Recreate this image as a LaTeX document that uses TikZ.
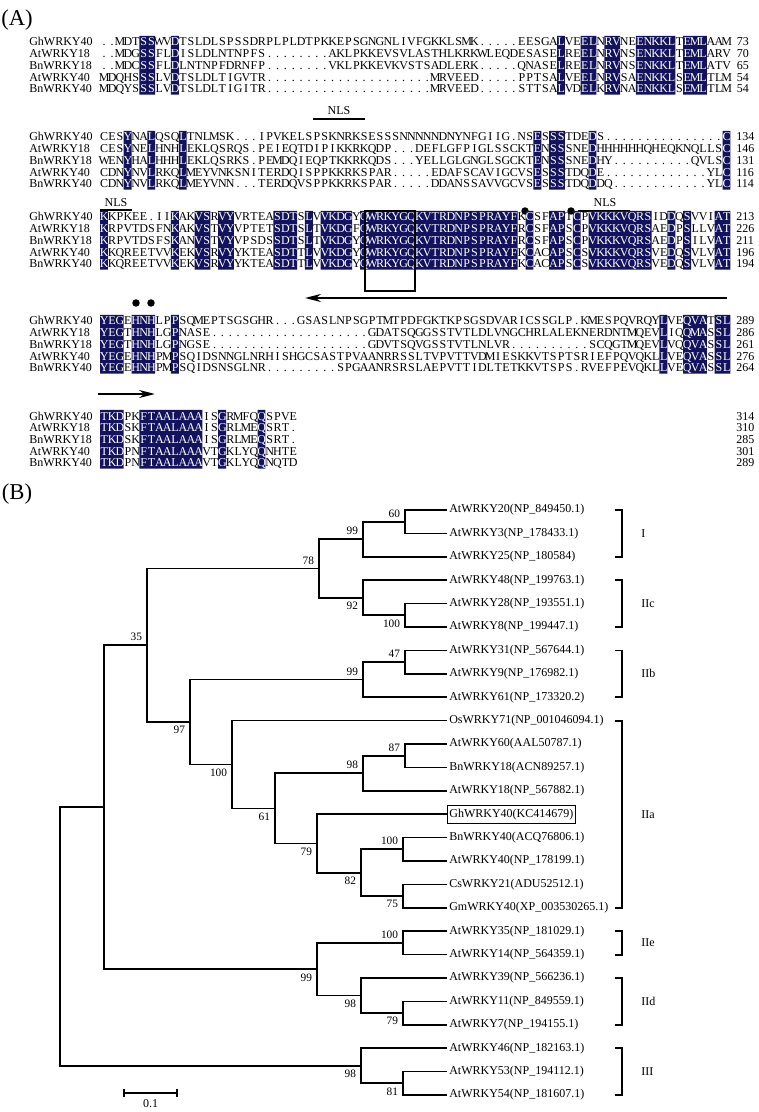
\documentclass[tikz,border=0pt]{standalone}
\usepackage{fontspec}
\setmainfont{Liberation Serif}
\usetikzlibrary{arrows.meta, positioning, calc}
\definecolor{shadenavy}{HTML}{12125E}

% one residue per fixed cell, gaps shown as dots,
% residues in shaded columns set in white
\makeatletter
\newlength\rescellw
\setlength\rescellw{5.91pt}
\newcount\rescol
\gdef\shadeset{,}
\newcommand\rescell[1]{\global\advance\rescol by 1
  \edef\rescheck{\noexpand\in@{,\the\rescol,}{\shadeset}}\rescheck
  \makebox[\rescellw][c]{\ifin@\color{white}\fi\if-#1.\else#1\fi}}
\def\resloop#1{\ifx#1\relax\else\rescell{#1}\expandafter\resloop\fi}
\newcommand\resrow[1]{\global\rescol=0 \expandafter\resloop#1\relax}
\makeatother

\tikzset{
  seqres/.style={anchor=base west, inner sep=0pt, font=\fontsize{9}{10}\selectfont},
  seqname/.style={anchor=base west, inner sep=0pt, font=\fontsize{9}{10}\selectfont},
  numwest/.style={anchor=base west, inner sep=0pt, font=\fontsize{9}{10}\selectfont},
  numeast/.style={anchor=base west, inner sep=0pt, xshift=0.5pt, font=\fontsize{9}{10}\selectfont},
  motif/.style={inner sep=0pt, font=\fontsize{9}{10}\selectfont},
  motifbar/.style={line width=1.1pt},
  seqarrow/.style={line width=1.3pt, -{Stealth[length=12pt,width=6pt]}},
  treeline/.style={line width=1.25pt},
  cladeline/.style={line width=1.35pt},
  leaflabel/.style={anchor=west, inner xsep=1.5pt, inner ysep=2.6pt, font=\fontsize{9}{10}\selectfont},
  boxed/.style={draw, line width=0.6pt},
  bootup/.style={anchor=south east, inner sep=0pt, xshift=-3.5pt, yshift=3pt, font=\fontsize{8.5}{10}\selectfont},
  bootdown/.style={anchor=north east, inner sep=0pt, xshift=-3.5pt, yshift=-3pt, font=\fontsize{8.5}{10}\selectfont},
  cladelabel/.style={anchor=west, inner sep=0pt, font=\fontsize{9}{10}\selectfont},
  panel/.style={inner sep=0pt, font=\fontsize{17}{20}\selectfont}
}

% #1 id, #2 first row, #3 shaded columns, #4 number style, #5 rows
\newcommand\alnblock[5]{%
  \gdef\shadeset{,}%
  \foreach \a/\b in {#3} {\foreach \c in {\a,...,\b} {\xdef\shadeset{\shadeset\c,}}}%
  \fill[shadenavy] foreach \a/\b in {#3}
    {({100+(\a-1)*7.88},{#2-6.2}) rectangle ({100+\b*7.88},{#2+52.6})};
  \foreach \nm/\sq/\sn [count=\r from 0] in {#5} {
    \node[seqname] (#1name\r) at (29,{#2+\r*11.7+4}) {\nm};
    \node[seqres] (#1seq\r) at (100,{#2+\r*11.7+4}) {\resrow{\sq}};
    \node[#4] (#1num\r) at (736,{#2+\r*11.7+4}) {\sn};
  }}

\begin{document}
\begin{tikzpicture}[x=0.75pt, y=-0.75pt]
  \fill[white] (0,0) rectangle (758,1112);
  \useasboundingbox (0,0) rectangle (758,1112);

  % (A) alignment
  \node[panel] (panelA) at (17,20) {(A)};

  \alnblock{ba}{42}{6/7,10/10,59/59,62/63,65/66,69/73,75/77}{numeast}{%
    GhWRKY40/--MDTSSWVDTSLDLSPSSDRPLPLDTPKKEPSGNGNLIVFGKKLSMK-----EESGALVEELNRVNEENKKLTEMLAAM/73,
    AtWRKY18/--MDGSSFLDISLDLNTNPFS--------AKLPKKEVSVLASTHLKRKWLEQDESASELREELNRVNSENKKLTEMLARV/70,
    BnWRKY18/--MDCSSFLDLNTNPFDRNFP--------VKLPKKEVKVSTSADLERK-----QNASELREELNRVNSENKKLTEMLATV/65,
    AtWRKY40/MDQHSSSLVDTSLDLTIGVTR---------------------MRVEED-----PPTSALVEELNRVSAENKKLSEMLTLM/54,
    BnWRKY40/MDQYSSSLVDTSLDLTIGITR---------------------MRVEED-----STTSALVDELKRVNAENKKLSEMLTLM/54}

  \node[motif] (nlsa) at (339,111) {NLS};
  \draw[motifbar] (313,119) -- (365,119);
  \alnblock{bb}{137}{4/4,7/7,11/11,56/56,58/59,63/63,80/80}{numwest}{%
    GhWRKY40/CESYNALQSQLTNLMSK---IPVKELSPSKNRKSESSSNNNNNDNYNFGIIG-NSESSSTDEDS---------------C/134,
    AtWRKY18/CESYNELHNHLEKLQSRQS-PEIEQTDIPIKKRKQDP---DEFLGFPIGLSSCKTENSSSNEDHHHHHHQHEQKNQLLSC/146,
    BnWRKY18/WENYHALHHHLEKLQSRKS-PEMDQIEQPTKKRKQDS---YELLGLGNGLSGCKTENSSSNEDHY----------QVLSC/131,
    AtWRKY40/CDNYNVLRKQLMEYVNKSNITERDQISPPKKRKSPAR-----EDAFSCAVIGCVSESSSTDQDE-------------YLC/116,
    BnWRKY40/CDNYNVLRKQLMEYVNN---TERDQVSPPKKRKSPAR-----DDANSSAVVGCVSESSSTDQDDQ------------YLC/114}

  \node[motif] (nlsb) at (116,203) {NLS};
  \draw[motifbar] (100,210) -- (132,210);
  \node[motif] (nlsc) at (605,203) {NLS};
  \draw[motifbar] (578,211) -- (630,211);
  \fill (525,211) circle[radius=2.8pt];
  \fill (571,211) circle[radius=2.8pt];
  \alnblock{bc}{217}{1/1,10/10,13/14,16/17,23/25,27/27,29/32,34/53,55/55,58/59,61/61,63/70,73/73,75/75,79/80}{numwest}{%
    GhWRKY40/KKPKEE-IIKAKVSRVYVRTEASDTSLVVKDGYQWRKYGQKVTRDNPSPRAYFKCSFAPTCPVKKKVQRSIDDQSVVIAT/213,
    AtWRKY18/KRPVTDSFNKAKVSTVYVPTETSDTSLTVKDGFQWRKYGQKVTRDNPSPRAYFRCSFAPSCPVKKKVQRSAEDPSLLVAT/226,
    BnWRKY18/KRPVTDSFSKANVSTVYVPSDSSDTSLTVKDGYQWRKYGQKVTRDNPSPRAYFRCSFAPSCPVKKKVQRSAEDPSILVAT/211,
    AtWRKY40/KKQREETVVKEKVSRVYYKTEASDTTLVVKDGYQWRKYGQKVTRDNPSPRAYFKCACAPSCSVKKKVQRSVEDQSVLVAT/196,
    BnWRKY40/KKQREETVVKEKVSRVYYKTEASDTTLVVKDGYQWRKYGQKVTRDNPSPRAYFKCACAPSCSVKKKVQRSVEDQSVLVAT/194}
  \draw[line width=0.9pt] (365,211) rectangle (415,291);

  \coordinate (arrowlongR) at (727,298);
  \coordinate (arrowlongL) at (305,298);
  \draw[seqarrow] (arrowlongR) -- (arrowlongL);
  \fill (136,303) circle[radius=2.8pt];
  \fill (151,303) circle[radius=2.8pt];
  \alnblock{bd}{321}{1/3,5/7,10/10,72/72,75/77,79/80}{numwest}{%
    GhWRKY40/YEGEHNHLPPSQMEPTSGSGHR---GSASLNPSGPTMTPDFGKTKPSGSDVARICSSGLP-KMESPQVRQYLVEQVATSL/289,
    AtWRKY18/YEGTHNHLGPNASE--------------------GDATSQGGSSTVTLDLVNGCHRLALEKNERDNTMQEVLIQQMASSL/286,
    BnWRKY18/YEGTHNHLGPNGSE--------------------GDVTSQVGSSTVTLNLVR----------SCQGTMQEVLVQQVASSL/261,
    AtWRKY40/YEGEHNHPMPSQIDSNNGLNRHISHGCSASTPVAANRRSSLTVPVTTVDMIESKKVTSPTSRIEFPQVQKLLVEQVASSL/276,
    BnWRKY40/YEGEHNHPMPSQIDSNSGLNR---------SPGAANRSRSLAEPVTTIDLTETKKVTSPS-RVEFPEVQKLLVEQVASSL/264}

  \coordinate (arrowshortL) at (98,394);
  \coordinate (arrowshortR) at (155,394);
  \draw[seqarrow] (arrowshortL) -- (arrowshortR);
  \alnblock{be}{416}{1/3,6/13,16/16,21/21}{numwest}{%
    GhWRKY40/TKDPKFTAALAAAISGRMFQQSPVE/314,
    AtWRKY18/TKDSKFTAALAAAISGRLMEQSRT-/310,
    BnWRKY18/TKDSKFTAALAAAISGRLMEQSRT-/285,
    AtWRKY40/TKDPNFTAALAAAVTGKLYQQNHTE/301,
    BnWRKY40/TKDPNFTAALAAAVTGKLYQQNQTD/289}

  % (B) tree
  \node[panel] (panelB) at (17,494) {(B)};

  \foreach \lab/\sty [count=\i] in {AtWRKY20(NP\_849450.1)/, AtWRKY3(NP\_178433.1)/,
      AtWRKY25(NP\_180584)/, AtWRKY48(NP\_199763.1)/, AtWRKY28(NP\_193551.1)/,
      AtWRKY8(NP\_199447.1)/, AtWRKY31(NP\_567644.1)/, AtWRKY9(NP\_176982.1)/,
      AtWRKY61(NP\_173320.2)/, OsWRKY71(NP\_001046094.1)/, AtWRKY60(AAL50787.1)/,
      BnWRKY18(ACN89257.1)/, AtWRKY18(NP\_567882.1)/, GhWRKY40(KC414679)/boxed,
      BnWRKY40(ACQ76806.1)/, AtWRKY40(NP\_178199.1)/, CsWRKY21(ADU52512.1)/,
      GmWRKY40(XP\_003530265.1)/, AtWRKY35(NP\_181029.1)/, AtWRKY14(NP\_564359.1)/,
      AtWRKY39(NP\_566236.1)/, AtWRKY11(NP\_849559.1)/, AtWRKY7(NP\_194155.1)/,
      AtWRKY46(NP\_182163.1)/, AtWRKY53(NP\_194112.1)/, AtWRKY54(NP\_181607.1)/}
    \node[leaflabel, \sty] (l\i) at (447,{510+(\i-1)*23.4}) {\lab};

  \foreach \nm/\x/\y in {n60/405/521.7, nI99/363/539.25, nIIc100/405/615.3, n92/363/597.75,
      n78/319/568.5, n47/405/662.1, nIIb99/363/679.65, n87/405/755.7, n98a/363/773.25,
      nBn40/403/849.3, n75/403/896.1, n82/361/872.7, n79a/317/843.45, n61/275/808.35,
      nIIa100/232/764.48, n97/190/722.06, n35/147/645.28, nIIe100/403/942.9,
      n79b/403/1013.1, nIId98/361/995.55, n99e/317/969.23, nA/104/807.25,
      n81/403/1083.3, nIII98/361/1065.75, root/60/936.5}
    \coordinate (\nm) at (\x,\y);

  \foreach \p/\a/\b in {n60/l1.west/l2.west, nI99/n60/l3.west, nIIc100/l5.west/l6.west,
      n92/l4.west/nIIc100, n78/nI99/n92, n47/l7.west/l8.west, nIIb99/n47/l9.west,
      n87/l11.west/l12.west, n98a/n87/l13.west, nBn40/l15.west/l16.west,
      n75/l17.west/l18.west, n82/nBn40/n75, n79a/l14.west/n82, n61/n98a/n79a,
      nIIa100/l10.west/n61, n97/nIIb99/nIIa100, n35/n78/n97, nIIe100/l19.west/l20.west,
      n79b/l22.west/l23.west, nIId98/l21.west/n79b, n99e/nIIe100/nIId98, nA/n35/n99e,
      n81/l25.west/l26.west, nIII98/l24.west/n81, root/nA/nIII98}
    \draw[treeline] (\a) -| (\p) |- (\b);

  \foreach \p/\t/\s in {n60/60/up, nI99/99/up, nIIc100/100/down, n92/92/down, n78/78/up,
      n47/47/up, nIIb99/99/up, n87/87/up, n98a/98/up, nBn40/100/up, n75/75/down,
      n82/82/down, n79a/79/down, n61/61/down, nIIa100/100/down, n97/97/down, n35/35/up,
      nIIe100/100/up, n79b/79/down, nIId98/98/down, n99e/99/down, n81/81/down,
      nIII98/98/down}
    \node[boot\s] (b\p) at (\p) {\t};

  \foreach \t/\b/\lab [count=\i] in {l1/l3/I, l4/l6/IIc, l7/l9/IIb, l10/l18/IIa,
      l19/l20/IIe, l21/l23/IId, l24/l26/III} {
    \draw[cladeline] (615,0 |- \t.west) -- (622,0 |- \t.west) -- (622,0 |- \b.west) -- (615,0 |- \b.west);
    \node[cladelabel] (clade\i) at ($(\t.west)!0.5!(\b.west)+(194,0)$) {\lab};
  }

  % scale bar
  \coordinate (sbL) at (124,1092.7);
  \coordinate (sbR) at (177,1092.7);
  \draw[treeline] (sbL) -- (sbR);
  \draw[treeline] ([yshift=3pt]sbL) -- ([yshift=-3pt]sbL);
  \draw[treeline] ([yshift=3pt]sbR) -- ([yshift=-3pt]sbR);
  \node[motif] (sblabel) at (150.5,1104) {0.1};
\end{tikzpicture}
\end{document}
